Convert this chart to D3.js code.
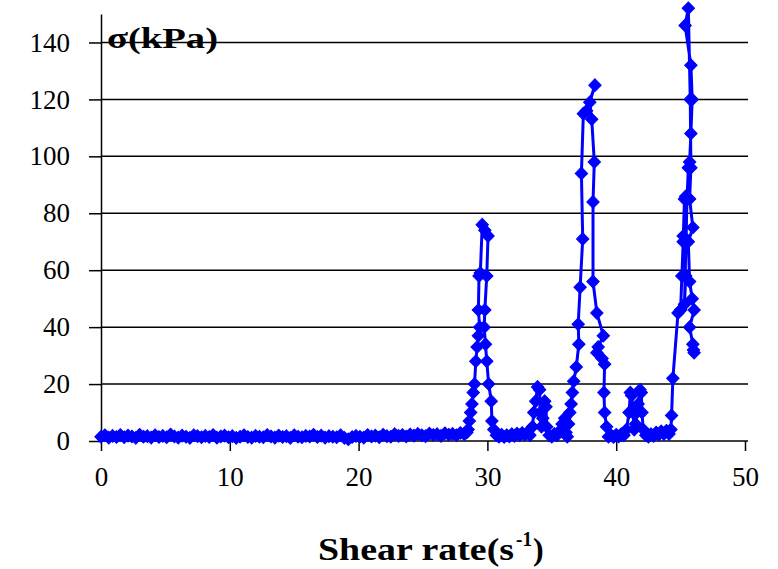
<!DOCTYPE html>
<html>
<head>
<meta charset="utf-8">
<script src="https://cdn.jsdelivr.net/npm/d3@7"></script>
<style>
  html, body { margin: 0; padding: 0; background: #fff; }
  svg { display: block; }
</style>
</head>
<body>
<svg id="chart" width="778" height="569"></svg>
<script>
// ---- data ----
const xTicks = [0, 10, 20, 30, 40, 50];
const yTicks = [0, 20, 40, 60, 80, 100, 120, 140];
const xTitle = "Shear rate(s";
const xTitleSup = "-1";
const yTitle = "σ(kPa)";

const baseline1 = [
  [0.0,1.5],[0.3,2],[0.6,1.2],[0.9,1.8],[1.2,1.4],[1.5,2.1],[1.8,1.3],[2.1,1.9],[2.4,1.6],[2.7,1.1],
  [3.0,2.2],[3.3,1.5],[3.6,1.7],[3.9,1.2],[4.2,2],[4.5,1.4],[4.8,1.8],[5.1,1.3],[5.4,2.3],[5.7,1.6],
  [6.0,1.2],[6.3,1.9],[6.6,1.5],[6.9,1.1],[7.2,2],[7.5,1.7],[7.8,1.3],[8.1,1.8],[8.4,1.4],[8.7,2.1],
  [9.0,1.2],[9.3,1.6],[9.6,1.9],[9.9,1.3],[10.2,1.7],[10.5,1.1],[10.8,1.5],[11.1,2],[11.4,1.4],[11.7,1.2],
  [12.0,1.8],[12.3,1.5],[12.6,1.3],[12.9,2.1],[13.2,1.6],[13.5,1.2],[13.8,1.9],[14.1,1.4],[14.4,1.7],[14.7,1.1],
  [15.0,2],[15.3,1.5],[15.6,1.3],[15.9,1.8],[16.2,1.6],[16.5,2.2],[16.8,1.4],[17.1,1.9],[17.4,1.2],[17.7,1.7],
  [18.0,1.5],[18.3,1.3],[18.6,2],[18.9,1.1],[19.2,0.6],[19.5,1.4],[19.8,1.8],[20.1,1.5],[20.4,1.2],[20.7,2.1],
  [21.0,1.6],[21.3,1.9],[21.6,1.3],[21.9,2.2],[22.2,1.7],[22.5,1.5],[22.8,2.4],[23.1,1.8],[23.4,2.1],[23.7,1.6],
  [24.0,2.3],[24.3,1.9],[24.6,2.5],[24.9,2],[25.2,1.7],[25.5,2.6],[25.8,2.1],[26.1,2.4],[26.4,1.8],[26.7,2.7],
  [27.0,2.2],[27.3,2.5],[27.6,2],[27.9,2.8],[28.2,2.4]
];
const peak1 = [
  [28.4,3],[28.5,4],[28.6,7],[28.7,10],[28.8,13],[28.9,17],[29.0,20],[29.1,28],[29.2,33],[29.3,37],
  [29.4,40],[29.3,46],[29.35,58],[29.45,59],[29.6,76],[29.8,74],[30.05,72],[29.95,58],[29.8,46],[29.75,40],
  [29.85,34],[29.95,28],[30.1,20],[30.3,14],[30.35,7],[30.5,4],[30.7,2]
];
const baseline2 = [
  [30.9,1.5],[31.1,2.2],[31.3,1.4],[31.5,2],[31.7,1.6],[31.9,2.4],[32.1,1.8],[32.3,2.6],[32.5,2],[32.7,2.8],
  [32.9,2.2],[33.1,3]
];
const peak2 = [
  [33.3,2],[33.5,5],[33.6,10],[33.75,14],[33.9,19],[34.05,18],[34.1,10],[34.2,5],[34.3,8],[34.45,14],
  [34.55,12],[34.6,5],[34.8,2]
];
const baseline3 = [
  [35.0,1.5],[35.2,2.5],[35.4,2],[35.6,3.5],[35.8,6],[36.0,8],[36.1,3],[36.2,1.5]
];
const peak3 = [
  [36.3,6],[36.4,10],[36.5,13],[36.6,17],[36.7,21],[36.9,26],[37.1,34],[37.05,41],[37.2,54],[37.4,71],
  [37.3,94],[37.45,115],[37.7,116],[38.35,125],[37.95,119],[38.1,113],[38.3,98],[38.2,84],[38.2,56],[38.5,45],
  [39.0,37],[38.6,33],[38.5,31],[38.9,29],[39.1,27],[39.05,17],[39.1,10],[39.25,5],[39.4,1.5]
];
const baseline4 = [
  [39.6,2],[39.8,1.4],[40.0,2.2],[40.2,1.6],[40.4,2.4]
];
const peak4 = [
  [40.6,2],[40.8,4],[41.0,10],[41.1,17],[41.2,16],[41.3,10],[41.4,4],[41.5,6],[41.6,10],[41.7,13],
  [41.85,18],[41.95,17],[42.0,10],[42.1,4],[42.3,2]
];
const baseline5 = [
  [42.5,1.5],[42.7,2.4],[42.9,1.8],[43.1,3],[43.3,2.2],[43.5,3.4],[43.7,2.5],[43.9,3.6]
];
const peak5 = [
  [44.1,2.5],[44.25,4],[44.3,9],[44.4,22],[44.8,45],[45.0,46],[45.1,58],[45.2,70],[45.3,85],[45.4,86],
  [45.2,72],[45.4,58],[45.3,48],[45.5,85],[45.6,96],[45.7,98],[45.8,108],[45.9,120],[45.8,132],[45.35,146],
  [45.6,152],[45.75,120],[45.8,96],[45.7,85],[45.95,75],[45.6,70],[45.7,56],[45.9,50],[46.05,46],[45.7,40],
  [45.95,34],[46.0,32],[46.05,31]
];

const series = [].concat(baseline1, peak1, baseline2, peak2, baseline3, peak3, baseline4, peak4, baseline5, peak5);

// ---- layout ----
const svg = d3.select("#chart");
const x = d3.scaleLinear().domain([0, 50]).range([101, 745]);
const y = d3.scaleLinear().domain([0, 150]).range([441, 14]);
const serif = "'Liberation Serif', 'Times New Roman', serif";
const blue = "#0000ff";

// gridlines
svg.append("g").selectAll("line")
  .data(yTicks.filter(d => d > 0))
  .join("line")
  .attr("x1", 101).attr("x2", 748)
  .attr("y1", d => y(d)).attr("y2", d => y(d))
  .attr("stroke", "#000").attr("stroke-width", 1.5);

// x axis
const gx = svg.append("g")
  .attr("transform", `translate(0,${y(0)})`)
  .call(d3.axisBottom(x).tickValues(xTicks).tickSize(10).tickSizeOuter(0).tickPadding(16).tickFormat(d3.format("d")));
gx.select(".domain").attr("stroke", "#000").attr("stroke-width", 1.5).attr("d", `M101,0H748`);
gx.selectAll(".tick line").attr("stroke", "#000").attr("stroke-width", 1.5);
gx.selectAll(".tick text").attr("font-family", serif).attr("font-size", 27).attr("fill", "#000");

// y axis
const gy = svg.append("g")
  .attr("transform", `translate(${x(0)},0)`)
  .call(d3.axisLeft(y).tickValues(yTicks).tickSize(12).tickSizeOuter(0).tickPadding(19).tickFormat(d3.format("d")));
gy.select(".domain").attr("stroke", "#000").attr("stroke-width", 1.5);
gy.selectAll(".tick line").attr("stroke", "#000").attr("stroke-width", 1.5);
gy.selectAll(".tick text").attr("font-family", serif).attr("font-size", 27).attr("fill", "#000");

// series line
const line = d3.line().x(d => x(d[0])).y(d => y(d[1]));
svg.append("path")
  .datum(series)
  .attr("d", line)
  .attr("fill", "none")
  .attr("stroke", blue)
  .attr("stroke-width", 3)
  .attr("stroke-linejoin", "round");

// markers
const diamond = d3.symbol().type(d3.symbolDiamond).size(45);
svg.append("g").selectAll("path")
  .data(series)
  .join("path")
  .attr("d", diamond)
  .attr("transform", d => `translate(${x(d[0])},${y(d[1])}) scale(1.7,1)`)
  .attr("fill", blue)
  .attr("stroke", blue)
  .attr("stroke-width", 0.8);

// y title (inside plot)
svg.append("text")
  .attr("x", 107).attr("y", 48)
  .attr("font-family", serif).attr("font-size", 29).attr("font-weight", "bold")
  .attr("textLength", 111).attr("lengthAdjust", "spacingAndGlyphs")
  .attr("fill", "#000")
  .text(yTitle);

// x title
const xt = svg.append("g");
xt.append("text")
  .attr("x", 318).attr("y", 560)
  .attr("font-family", serif).attr("font-size", 32).attr("font-weight", "bold")
  .attr("textLength", 196).attr("lengthAdjust", "spacingAndGlyphs")
  .attr("fill", "#000")
  .text(xTitle);
xt.append("text")
  .attr("x", 516).attr("y", 546)
  .attr("font-family", serif).attr("font-size", 20).attr("font-weight", "bold")
  .attr("textLength", 16).attr("lengthAdjust", "spacingAndGlyphs")
  .attr("fill", "#000")
  .text(xTitleSup);
xt.append("text")
  .attr("x", 533).attr("y", 560)
  .attr("font-family", serif).attr("font-size", 32).attr("font-weight", "bold")
  .attr("fill", "#000")
  .text(")");
</script>
</body>
</html>
